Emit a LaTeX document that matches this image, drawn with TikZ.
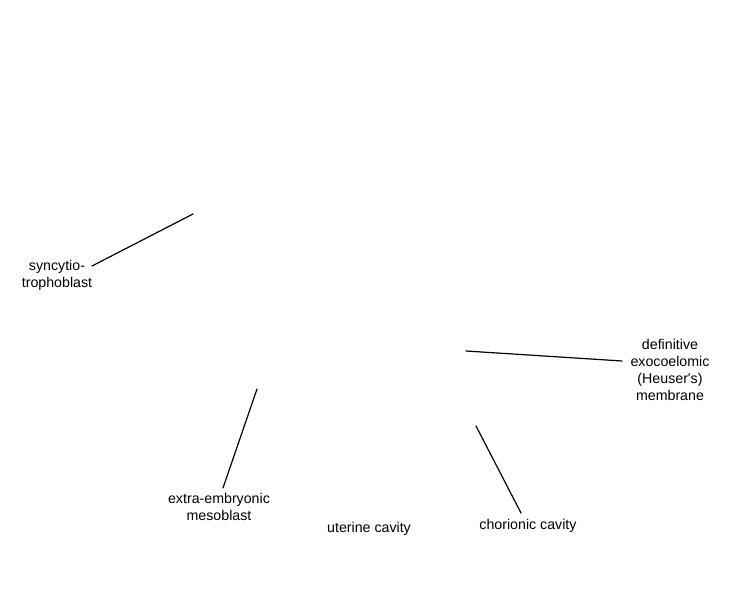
\documentclass[tikz,border=0pt]{standalone}
\usepackage{fontspec}
\setmainfont{Liberation Sans}
\usetikzlibrary{positioning}

\begin{document}
\begin{tikzpicture}[x = 1pt, y = 1pt]
  \useasboundingbox (0,0) rectangle (750,600);
  \tikzset{LabelStyle/.style = {align          = center,
                                inner sep      = 0pt,
                                font           = \fontsize{14.2}{17}\selectfont}}
  \tikzset{LineStyle/.style  = {line width     = 1.2pt,
                                line cap       = round}}
     \node[LabelStyle](syn) at (57,325) {syncytio-\\trophoblast};
     \node[LabelStyle](heu) at (670,230) {definitive\\exocoelomic\\(Heuser\textquotesingle s)\\membrane};
     \node[LabelStyle](mes) at (219,93) {extra-embryonic\\mesoblast};
     \node[LabelStyle](ute) at (369,71) {uterine cavity};
     \node[LabelStyle](cho) at (528,74) {chorionic cavity};

     \coordinate (synA) at (92,334);
     \coordinate (synB) at (193,386);
     \coordinate (heuA) at (622,239);
     \coordinate (heuB) at (466,249);
     \coordinate (mesA) at (223,112);
     \coordinate (mesB) at (257,211);
     \coordinate (choA) at (521,87);
     \coordinate (choB) at (476,174);

     \draw[LineStyle](synA) -- (synB);
     \draw[LineStyle](heuA) -- (heuB);
     \draw[LineStyle](mesA) -- (mesB);
     \draw[LineStyle](choA) -- (choB);
  \end{tikzpicture}
\end{document}
